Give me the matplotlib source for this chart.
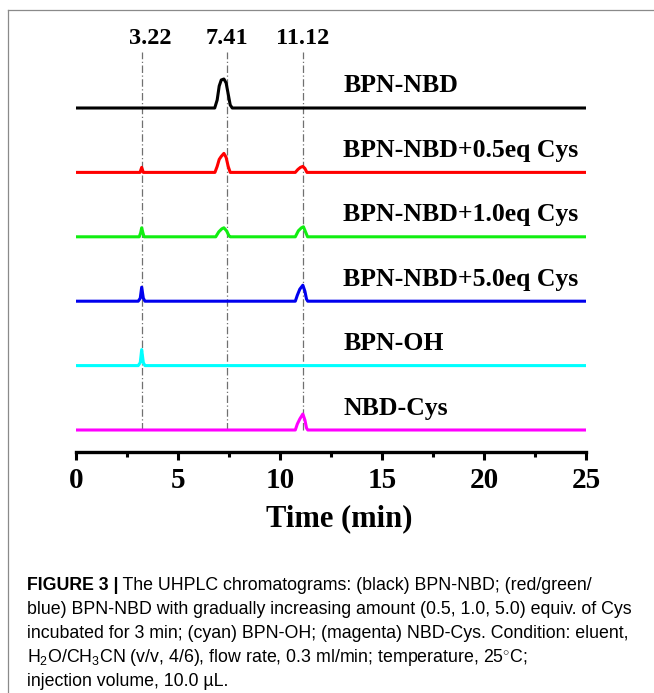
import matplotlib
matplotlib.use("Agg")
import matplotlib.pyplot as plt
from matplotlib.lines import Line2D
from matplotlib.ticker import MultipleLocator

plt.rcParams['font.family'] = ['Liberation Serif', 'DejaVu Serif']
plt.rcParams['mathtext.fontset'] = 'custom'
plt.rcParams['mathtext.rm'] = 'Liberation Sans'
plt.rcParams['mathtext.it'] = 'Liberation Sans'
plt.rcParams['mathtext.bf'] = 'Liberation Sans:bold'

# ---------------- data ----------------
trace_names = ["BPN-NBD", "BPN-NBD+0.5eq Cys", "BPN-NBD+1.0eq Cys",
               "BPN-NBD+5.0eq Cys", "BPN-OH", "NBD-Cys"]
trace_colors = ["#000000", "#ff0000", "#11ee11", "#0000ee", "#00ffff", "#ff00ff"]

peak_times = [3.22, 7.41, 11.12]
peak_labels = ["3.22", "7.41", "11.12"]

# retention time (min) / signal (a.u.)
black_t = [0, 6.80, 6.92, 7.02, 7.12, 7.25, 7.36, 7.46, 7.56, 7.66, 25]
black_s = [0, 0, 8, 22, 28, 29, 25, 14, 3, 0, 0]

red_t = [0, 3.14, 3.22, 3.30,
         6.81, 6.92, 7.02, 7.12, 7.25, 7.36, 7.46, 7.56,
         10.75, 10.88, 11.00, 11.12, 11.22, 11.32, 25]
red_s = [0, 0, 5, 0,
         0, 6, 13, 16, 19, 15, 6, 0,
         0, 3, 5, 6, 4, 0, 0]

green_t = [0, 3.10, 3.17, 3.22, 3.28, 3.34,
           6.85, 7.00, 7.15, 7.25, 7.38, 7.50, 7.56,
           10.75, 10.90, 11.05, 11.15, 11.25, 11.35, 25]
green_s = [0, 0, 4, 9, 4, 0,
           0, 5, 8, 9, 6, 1, 0,
           0, 6, 9, 10, 5, 0, 0]

blue_t = [0, 3.05, 3.15, 3.22, 3.30, 3.38,
          10.75, 10.85, 10.97, 11.12, 11.22, 11.30, 11.36, 25]
blue_s = [0, 0, 3, 14, 3, 0,
          0, 6, 12, 16, 10, 2, 0, 0]

cyan_t = [0, 3.05, 3.15, 3.22, 3.30, 3.38, 25]
cyan_s = [0, 0, 3, 16, 3, 0, 0]

magenta_t = [0, 10.75, 10.85, 10.97, 11.12, 11.22, 11.30, 11.36, 25]
magenta_s = [0, 0, 6, 11, 16, 10, 2, 0, 0]

x_ticks = [0, 5, 10, 15, 20, 25]
x_label = "Time (min)"

caption_bold = "FIGURE 3 |"
caption_rest = " The UHPLC chromatograms: (black) BPN-NBD; (red/green/"
caption_lines = [
    "blue) BPN-NBD with gradually increasing amount (0.5, 1.0, 5.0) equiv. of Cys",
    "incubated for 3 min; (cyan) BPN-OH; (magenta) NBD-Cys. Condition: eluent,",
    "H$_2$O/CH$_3$CN (v/v, 4/6), flow rate, 0.3 ml/min; temperature, 25$^{\\circ}$C;",
    "injection volume, 10.0 \u00b5L.",
]

traces_t = [black_t, red_t, green_t, blue_t, cyan_t, magenta_t]
traces_s = [black_s, red_s, green_s, blue_s, cyan_s, magenta_s]

# ---------------- figure ----------------
W, H = 654, 693
fig = plt.figure(figsize=(W / 100, H / 100), dpi=100)

# frame lines of the figure panel
fig.add_artist(Line2D([8 / W, 1], [1 - 10 / H, 1 - 10 / H], color="#8a8a8a", lw=0.9))
fig.add_artist(Line2D([8 / W, 8 / W], [0, 1 - 10 / H], color="#8a8a8a", lw=0.9))

ax_left, ax_right = 76 / W, 586 / W
ax_bottom, ax_top = 1 - 452 / H, 1 - 20 / H
ax = fig.add_axes([ax_left, ax_bottom, ax_right - ax_left, ax_top - ax_bottom])
ax.set_xlim(0, 25)
ax.set_ylim(0, 432)

spacing = 64.4
base0 = 22
for i, (t, s) in enumerate(zip(traces_t, traces_s)):
    base = base0 + spacing * (len(traces_t) - 1 - i)
    ax.plot(t, [base + v for v in s], color=trace_colors[i], lw=2.2,
            solid_joinstyle="round", solid_capstyle="butt", zorder=3)
    ax.text(13.1, base + 22, trace_names[i], fontsize=18.5, fontweight="bold",
            ha="left", va="center")

label_nudge_pt = [6, 0, 0]
for pt, pl, nd in zip(peak_times, peak_labels, label_nudge_pt):
    ax.plot([pt, pt], [base0, 400], color="#707070", lw=0.9,
            linestyle=(0, (6, 2, 1, 2)), zorder=2)
    ax.annotate(pl, xy=(pt, 414), xytext=(nd, 0), textcoords="offset points",
                fontsize=17.5, fontweight="bold", ha="center", va="center")

for side in ["top", "right", "left"]:
    ax.spines[side].set_visible(False)
ax.spines["bottom"].set_linewidth(2.4)
ax.set_yticks([])
ax.set_xticks(x_ticks)
ax.xaxis.set_minor_locator(MultipleLocator(2.5))
ax.tick_params(axis="x", which="major", direction="out", length=6, width=2.2,
               pad=5, labelsize=21)
ax.tick_params(axis="x", which="minor", direction="out", length=3.5, width=2.2)
for lab in ax.get_xticklabels():
    lab.set_fontweight("bold")
ax.set_xlabel(x_label, fontsize=22, fontweight="bold", labelpad=4)
ax.xaxis.set_label_coords(0.516, -0.12)

# ---------------- caption ----------------
cap_fs = 12.8
cap_x = 27 / W
line_y = [586, 610, 634, 658, 681]
tb = fig.text(cap_x, 1 - line_y[0] / H, caption_bold, fontsize=cap_fs, fontweight="bold",
              family="Liberation Sans", va="center", ha="left")
fig.canvas.draw()
bb = tb.get_window_extent()
fig.text(bb.x1 / W, 1 - line_y[0] / H, caption_rest, fontsize=cap_fs,
         family="Liberation Sans", va="center", ha="left")
for ly, txt in zip(line_y[1:], caption_lines):
    fig.text(cap_x, 1 - ly / H, txt, fontsize=cap_fs, family="Liberation Sans",
             va="center", ha="left")

fig.savefig("out.png", dpi=100)
